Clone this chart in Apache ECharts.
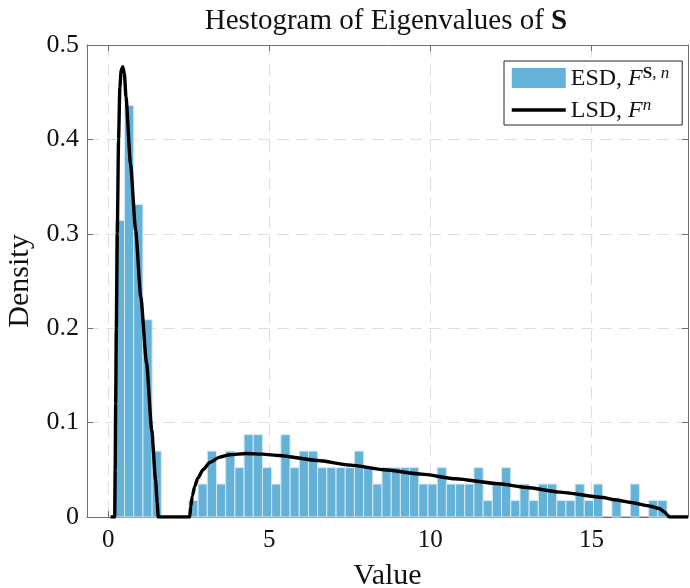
<!DOCTYPE html>
<html><head><meta charset="utf-8">
<script src="https://cdn.jsdelivr.net/npm/echarts@6/dist/echarts.min.js"></script>
<style>html,body{margin:0;padding:0;background:#fff}#c{width:690px;height:588px}</style>
</head><body><div id="c"></div>
<script>
// Histogram bins (ESD)
const binStart = 0.22;
const binWidth = 0.2855;
const esdDensity = [
  0.314,0.436,0.331,0.209,0.0698,0,0,0,
  0.0174,0.0349,0.0698,0.0349,0.0698,0.0523,0.0872,0.0872,0.0523,0.0349,0.0872,
  0.0523,0.0698,0.0698,0.0523,0.0523,0.0523,0.0523,0.0698,0.0523,0.0349,0.0523,
  0.0523,0.0523,0.0523,0.0349,0.0349,0.0523,0.0349,0.0349,0.0349,0.0523,
  0.0174,0.0349,0.0523,0.0174,0.0349,0.0174,0.0349,0.0349,0.0174,0.0174,
  0.0349,0.0174,0.0349,0,0.0174,0,0.0349,0,0.0174,0.0174
];
// Limiting spectral density curve (LSD)
const lsdX = [0.07,0.20,0.215,0.23,0.25,0.28,0.32,0.36,0.40,0.45,0.50,0.55,0.69,0.85,1.01,1.19,1.35,1.47,1.52,1.55,
  2.53,2.56,2.61,2.68,2.78,2.94,3.15,3.46,3.77,4.28,4.79,5.31,6.5,7.53,8.56,9.74,10.78,12.12,12.99,14.02,15.36,15.72,16.24,16.76,17.12,17.27,17.35,17.42,18.0];
const lsdY = [0,0,0.05,0.12,0.2,0.3,0.4,0.455,0.473,0.477,0.47,0.445,0.374,0.304,0.233,0.163,0.092,0.039,0.015,0,
  0,0.011,0.022,0.032,0.041,0.05,0.0577,0.0634,0.0659,0.0672,0.0666,0.0651,0.0598,0.055,0.05,0.0454,0.0405,0.0352,0.0313,0.0264,0.0207,0.0183,0.0154,0.0119,0.0088,0.0053,0.0025,0,0];
const xTicks = [0,5,10,15];

const FONT = "'Liberation Serif','Times New Roman',serif";
const BOX = '#6e6e6e';
const BAR = '#65b2d8';

const histData = esdDensity.map((h,i)=>[binStart+i*binWidth, binStart+(i+1)*binWidth, h]);
const lineData = lsdX.map((x,i)=>[x, lsdY[i]]);

const chart = echarts.init(document.getElementById('c'), null, {renderer:'canvas'});
const axisCommon = {min:-0.66, max:18};
chart.setOption({
  animation:false,
  backgroundColor:'#fff',
  title:{
    text:'{n|Hestogram of Eigenvalues of }{b|S}',
    left:381, top:2, textAlign:'center',
    textStyle:{fontWeight:'normal',rich:{
      n:{fontFamily:FONT,fontSize:29,fontWeight:'normal',color:'#111'},
      b:{fontFamily:FONT,fontSize:29,fontWeight:'bold',color:'#111'}
    }}
  },
  grid:{left:87,right:2,top:45,bottom:71,containLabel:false,outerBoundsMode:'none'},
  legend:{
    orient:'vertical', left:504, top:61,
    backgroundColor:'#fff', borderColor:'#262626', borderWidth:1,
    padding:[4,13,2,6], itemWidth:54, itemHeight:20, itemGap:6,
    data:[{name:'ESD',icon:'rect'},{name:'LSD',itemStyle:{opacity:0},lineStyle:{width:3.5,color:'#000'}}],
    formatter:function(name){
      if(name==='ESD') return '{t|ESD, }{i|F}{sb|S}{si|, n}';
      return '{t|LSD, }{i|F}{si|n}';
    },
    textStyle:{rich:{
      t:{fontFamily:FONT,fontSize:24,color:'#111',lineHeight:26,verticalAlign:'bottom'},
      i:{fontFamily:FONT,fontSize:24,fontStyle:'italic',color:'#111',lineHeight:26,verticalAlign:'bottom'},
      sb:{fontFamily:FONT,fontSize:17,fontWeight:'bold',color:'#111',lineHeight:12,verticalAlign:'top'},
      si:{fontFamily:FONT,fontSize:17,fontStyle:'italic',color:'#111',lineHeight:12,verticalAlign:'top'}
    }}
  },
  xAxis:[
    Object.assign({type:'value',position:'bottom',
      name:'Value',nameLocation:'middle',nameGap:44,
      nameTextStyle:{fontFamily:FONT,fontSize:30,color:'#111'},
      axisLine:{show:true,onZero:false,lineStyle:{color:BOX,width:1}},
      axisTick:{show:true,inside:true,length:6,customValues:xTicks,lineStyle:{color:BOX}},
      axisLabel:{show:true,customValues:xTicks,margin:11,fontFamily:FONT,fontSize:25,color:'#111'},
      splitLine:{show:true,lineStyle:{color:'#dedede',type:[12,7],width:1}}
    },axisCommon),
    Object.assign({type:'value',position:'top',
      axisLine:{show:true,onZero:false,lineStyle:{color:BOX,width:1}},
      axisTick:{show:true,inside:true,length:6,customValues:xTicks,lineStyle:{color:BOX}},
      axisLabel:{show:false},
      splitLine:{show:false}
    },axisCommon)
  ],
  yAxis:[
    {type:'value',position:'left',min:0,max:0.5,interval:0.1,
      name:'Density',nameLocation:'middle',nameGap:48,nameRotate:90,
      nameTextStyle:{fontFamily:FONT,fontSize:30,color:'#111'},
      axisLine:{show:true,onZero:false,lineStyle:{color:BOX,width:1}},
      axisTick:{show:true,inside:true,length:6,lineStyle:{color:BOX}},
      axisLabel:{show:true,margin:8,fontFamily:FONT,fontSize:26,color:'#111',
        formatter:v=>String(Math.round(v*10)/10)},
      splitLine:{show:true,lineStyle:{color:'#dedede',type:[12,7],width:1}}
    },
    {type:'value',position:'right',min:0,max:0.5,interval:0.1,
      axisLine:{show:true,onZero:false,lineStyle:{color:BOX,width:1}},
      axisTick:{show:true,inside:true,length:6,lineStyle:{color:BOX}},
      axisLabel:{show:false},splitLine:{show:false}
    }
  ],
  series:[
    {
      name:'ESD', type:'custom', xAxisIndex:0, yAxisIndex:0,
      itemStyle:{color:BAR},
      encode:{x:[0,1],y:2},
      data:histData,
      renderItem:function(params, api){
        const x0 = api.value(0), x1 = api.value(1), h = api.value(2);
        const p0 = api.coord([x0,h]);
        const p1 = api.coord([x1,0]);
        if(h===0){
          return {type:'line',shape:{x1:p0[0],y1:p1[1]-0.5,x2:p1[0],y2:p1[1]-0.5},style:{stroke:'#c8c8c8',lineWidth:1}};
        }
        return {type:'rect',shape:{x:p0[0],y:p0[1],width:p1[0]-p0[0],height:p1[1]-p0[1]},
          style:{fill:BAR,stroke:'#d4e9f4',lineWidth:1}};
      }
    },
    {
      name:'LSD', type:'line', xAxisIndex:0, yAxisIndex:0,
      data:lineData, symbol:'none', smooth:0.2, smoothMonotone:'x',
      lineStyle:{color:'#000',width:3.4},
      itemStyle:{color:'#000'}, z:5
    }
  ]
});
</script></body></html>
